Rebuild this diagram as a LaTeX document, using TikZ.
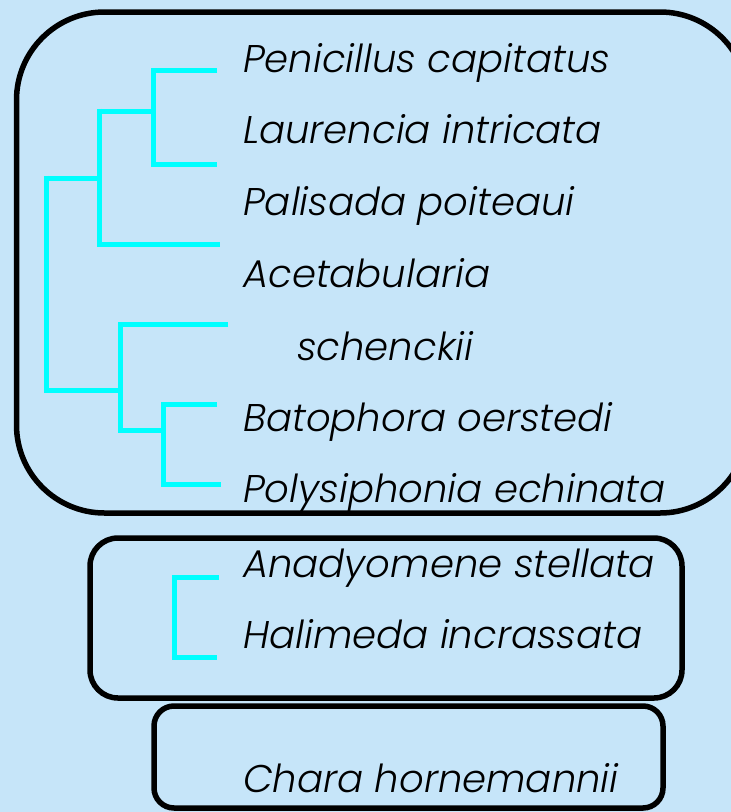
\documentclass[tikz,border=0pt]{standalone}
\usepackage{fontspec}
\newfontfamily\taxfont{Poppins}[ItalicFont={Poppins Light Italic}]
\definecolor{bgblue}{HTML}{C6E5F9}
\definecolor{treecyan}{HTML}{00FFFF}
\begin{document}
\begin{tikzpicture}[x=1pt,y=-1pt,
  taxon/.style={anchor=base west,inner sep=0pt,font=\taxfont\fontsize{38.6}{43}\selectfont\itshape},
  groupbox/.style={draw=black,line width=5.5pt},
  branch/.style={draw=treecyan,line width=5pt}]
\clip (0,0) rectangle (731,812);
\fill[bgblue] (0,0) rectangle (731,812);
% boxes
\draw[groupbox,rounded corners=88pt] (16.5,12) rectangle (748,513);
\draw[groupbox,rounded corners=28pt] (90,538) rectangle (682,698);
\draw[groupbox,rounded corners=20pt] (154,706) rectangle (663,808);
% taxa
\node[taxon] (t1) at (243,72) {Penicillus capitatus};
\node[taxon] (t2) at (243,143) {Laurencia intricata};
\node[taxon] (t3) at (243,215) {Palisada poiteaui};
\node[taxon] (t4) at (243,287) {Acetabularia};
\node[taxon] (t4b) at (297,360) {schenckii};
\node[taxon] (t5) at (243,431) {Batophora oerstedi};
\node[taxon] (t6) at (243,502) {Polysiphonia echinata};
\node[taxon] (t7) at (243,577) {Anadyomene stellata};
\node[taxon] (t8) at (243,648) {Halimeda incrassata};
\node[taxon] (t9) at (243,792) {Chara hornemannii};
% tree coordinates
\coordinate (l1) at (217,70.5);
\coordinate (l2) at (217,164);
\coordinate (l3) at (220,244);
\coordinate (l4) at (228,324.5);
\coordinate (l5) at (217,404.5);
\coordinate (l6) at (221,484);
\coordinate (l7) at (219,577.5);
\coordinate (l8) at (217,657.5);
% clade (1,2)
\draw[branch] (l1) -- (153.5,70.5) -- (153.5,164) -- (l2);
\draw[branch] (99.5,111) -- (153.5,111);
% clade ((1,2),3)
\draw[branch] (99.5,108.5) -- (99.5,244) -- (l3);
\draw[branch] (46.5,178) -- (99.5,178);
% root
\draw[branch] (46.5,175.5) -- (46.5,390.5) -- (120.5,390.5);
% clade (4,(5,6))
\draw[branch] (l4) -- (120.5,324.5) -- (120.5,430.5) -- (163.5,430.5);
\draw[branch] (l5) -- (163.5,404.5) -- (163.5,484) -- (l6);
% clade (7,8)
\draw[branch] (l7) -- (174.5,577.5) -- (174.5,657.5) -- (l8);
\end{tikzpicture}
\end{document}
